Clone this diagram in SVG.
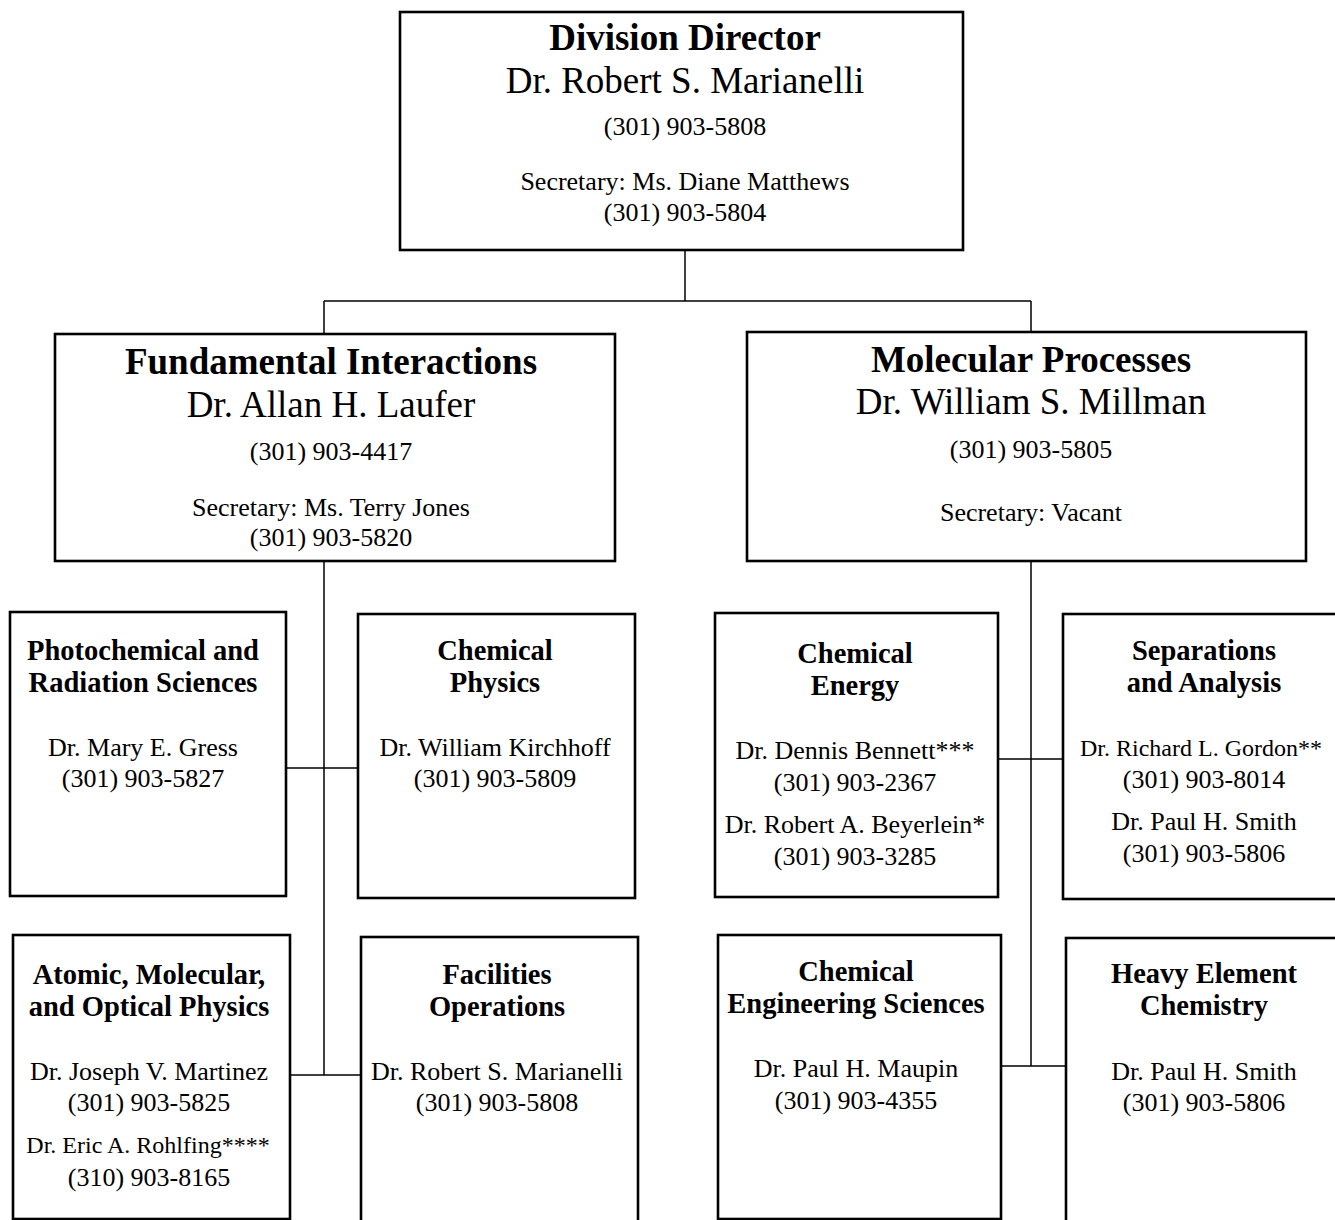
<svg xmlns="http://www.w3.org/2000/svg" width="1335" height="1220" viewBox="0 0 1335 1220">
<style>
.box{fill:#fff;stroke:#000;stroke-width:2.6}
.con{fill:none;stroke:#000;stroke-width:1.5}
text{font-family:"Liberation Serif","Times New Roman",serif;fill:#000;text-anchor:middle}
.h1{font-size:37px;font-weight:bold}
.n1{font-size:37px}
.s{font-size:26px}
.c{font-size:24px}
.h2{font-size:28.5px;font-weight:bold}
</style>
<rect width="1335" height="1220" fill="#fff"/>
<g id="connectors">
<path class="con" d="M685 250V301M324 301H1031M324 301V334M1031 301V332"/>
<path class="con" d="M324 561V1075M286 768H358M290 1075H361"/>
<path class="con" d="M1031 561V1066M998 759H1063M1001 1066H1066"/>
</g>
<g id="division-director">
<rect class="box" x="400" y="12" width="563" height="238"/>
<text class="h1" x="685" y="50">Division Director</text>
<text class="n1" x="685" y="93">Dr. Robert S. Marianelli</text>
<text class="s" x="685" y="135">(301) 903-5808</text>
<text class="s" x="685" y="190">Secretary: Ms. Diane Matthews</text>
<text class="s" x="685" y="221">(301) 903-5804</text>
</g>
<g id="fundamental-interactions">
<rect class="box" x="55" y="334" width="560" height="227"/>
<text class="h1" x="331" y="374">Fundamental Interactions</text>
<text class="n1" x="331" y="417">Dr. Allan H. Laufer</text>
<text class="s" x="331" y="460">(301) 903-4417</text>
<text class="s" x="331" y="516">Secretary: Ms. Terry Jones</text>
<text class="s" x="331" y="546">(301) 903-5820</text>
</g>
<g id="molecular-processes">
<rect class="box" x="747" y="332" width="559" height="229"/>
<text class="h1" x="1031" y="372">Molecular Processes</text>
<text class="n1" x="1031" y="414">Dr. William S. Millman</text>
<text class="s" x="1031" y="458">(301) 903-5805</text>
<text class="s" x="1031" y="521">Secretary: Vacant</text>
</g>
<g id="photochemical">
<rect class="box" x="10" y="612" width="276" height="284"/>
<text class="h2" x="143" y="660">Photochemical and</text>
<text class="h2" x="143" y="692">Radiation Sciences</text>
<text class="s" x="143" y="756">Dr. Mary E. Gress</text>
<text class="s" x="143" y="787">(301) 903-5827</text>
</g>
<g id="chemical-physics">
<rect class="box" x="358" y="614" width="277" height="284"/>
<text class="h2" x="495" y="660">Chemical</text>
<text class="h2" x="495" y="692">Physics</text>
<text class="s" x="495" y="756">Dr. William Kirchhoff</text>
<text class="s" x="495" y="787">(301) 903-5809</text>
</g>
<g id="chemical-energy">
<rect class="box" x="715" y="613" width="283" height="284"/>
<text class="h2" x="855" y="663">Chemical</text>
<text class="h2" x="855" y="695">Energy</text>
<text class="s" x="855" y="759">Dr. Dennis Bennett***</text>
<text class="s" x="855" y="791">(301) 903-2367</text>
<text class="s" x="855" y="833">Dr. Robert A. Beyerlein*</text>
<text class="s" x="855" y="865">(301) 903-3285</text>
</g>
<g id="separations-analysis">
<rect class="box" x="1063" y="614" width="300" height="285"/>
<text class="h2" x="1204" y="660">Separations</text>
<text class="h2" x="1204" y="692">and Analysis</text>
<text class="c" x="1201" y="756">Dr. Richard L. Gordon**</text>
<text class="s" x="1204" y="788">(301) 903-8014</text>
<text class="s" x="1204" y="830">Dr. Paul H. Smith</text>
<text class="s" x="1204" y="862">(301) 903-5806</text>
</g>
<g id="amo-physics">
<rect class="box" x="13" y="935" width="277" height="284"/>
<text class="h2" x="149" y="984">Atomic, Molecular,</text>
<text class="h2" x="149" y="1016">and Optical Physics</text>
<text class="s" x="149" y="1080">Dr. Joseph V. Martinez</text>
<text class="s" x="149" y="1111">(301) 903-5825</text>
<text class="c" x="148" y="1153">Dr. Eric A. Rohlfing****</text>
<text class="s" x="149" y="1186">(310) 903-8165</text>
</g>
<g id="facilities-operations">
<rect class="box" x="361" y="937" width="277" height="300"/>
<text class="h2" x="497" y="984">Facilities</text>
<text class="h2" x="497" y="1016">Operations</text>
<text class="s" x="497" y="1080">Dr. Robert S. Marianelli</text>
<text class="s" x="497" y="1111">(301) 903-5808</text>
</g>
<g id="chemical-engineering">
<rect class="box" x="718" y="935" width="283" height="284"/>
<text class="h2" x="856" y="981">Chemical</text>
<text class="h2" x="856" y="1013">Engineering Sciences</text>
<text class="s" x="856" y="1077">Dr. Paul H. Maupin</text>
<text class="s" x="856" y="1109">(301) 903-4355</text>
</g>
<g id="heavy-element">
<rect class="box" x="1066" y="938" width="300" height="300"/>
<text class="h2" x="1204" y="983">Heavy Element</text>
<text class="h2" x="1204" y="1015">Chemistry</text>
<text class="s" x="1204" y="1080">Dr. Paul H. Smith</text>
<text class="s" x="1204" y="1111">(301) 903-5806</text>
</g>
</svg>
